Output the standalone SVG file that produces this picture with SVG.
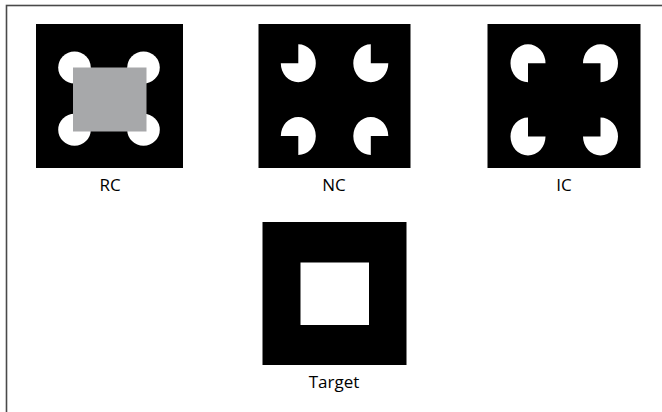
<svg xmlns="http://www.w3.org/2000/svg" width="662" height="412" viewBox="0 0 662 412">
<style>
.bg{fill:#000}
.w{fill:#fff}
.lbl{font-family:"Open Sans","Noto Sans",sans-serif;font-size:17px;fill:#000;text-anchor:middle}
</style>
<rect x="0" y="0" width="662" height="412" fill="#fff"/>
<rect x="6.5" y="5.5" width="670" height="420" fill="none" stroke="#4a4a4a" stroke-width="1.6"/>
<g id="RC">
<rect class="bg" x="36" y="24" width="147" height="144"/>
<ellipse class="w" cx="74.5" cy="67.5" rx="16.3" ry="16"/>
<ellipse class="w" cx="143.5" cy="67.5" rx="16.3" ry="16"/>
<ellipse class="w" cx="74.5" cy="129.7" rx="16.3" ry="16"/>
<ellipse class="w" cx="143.5" cy="129.7" rx="16.3" ry="16"/>
<rect x="73" y="67.5" width="73.5" height="64" fill="#a7a8aa"/>
<text class="lbl" x="110" y="191">RC</text>
</g>
<g id="NC">
<rect class="bg" x="258.5" y="24" width="152" height="144"/>
<path class="w" d="M298.3 63.3 L298.3 44.3 A17.5 19 0 1 1 280.8 63.3 Z"/>
<path class="w" d="M370.8 63.3 L388.3 63.3 A17.5 19 0 1 1 370.8 44.3 Z"/>
<path class="w" d="M298.3 136 L280.8 136 A17.5 19 0 1 1 298.3 155 Z"/>
<path class="w" d="M370.8 136 L370.8 155 A17.5 19 0 1 1 388.3 136 Z"/>
<text class="lbl" x="334" y="191">NC</text>
</g>
<g id="IC">
<rect class="bg" x="487.5" y="24" width="153" height="144"/>
<path class="w" d="M528 63.3 L528 82.3 A17.5 19 0 1 1 545.5 63.3 Z"/>
<path class="w" d="M600.5 63.3 L583 63.3 A17.5 19 0 1 1 600.5 82.3 Z"/>
<path class="w" d="M528 136.5 L545.5 136.5 A17.5 19 0 1 1 528 117.5 Z"/>
<path class="w" d="M600.5 136.5 L600.5 117.5 A17.5 19 0 1 1 583 136.5 Z"/>
<text class="lbl" x="564" y="191">IC</text>
</g>
<g id="Target">
<rect class="bg" x="262.5" y="222" width="144" height="143"/>
<rect class="w" x="300.5" y="262.5" width="68.5" height="62.5"/>
<text class="lbl" x="334" y="388">Target</text>
</g>
<g id="connectors"></g>
</svg>
